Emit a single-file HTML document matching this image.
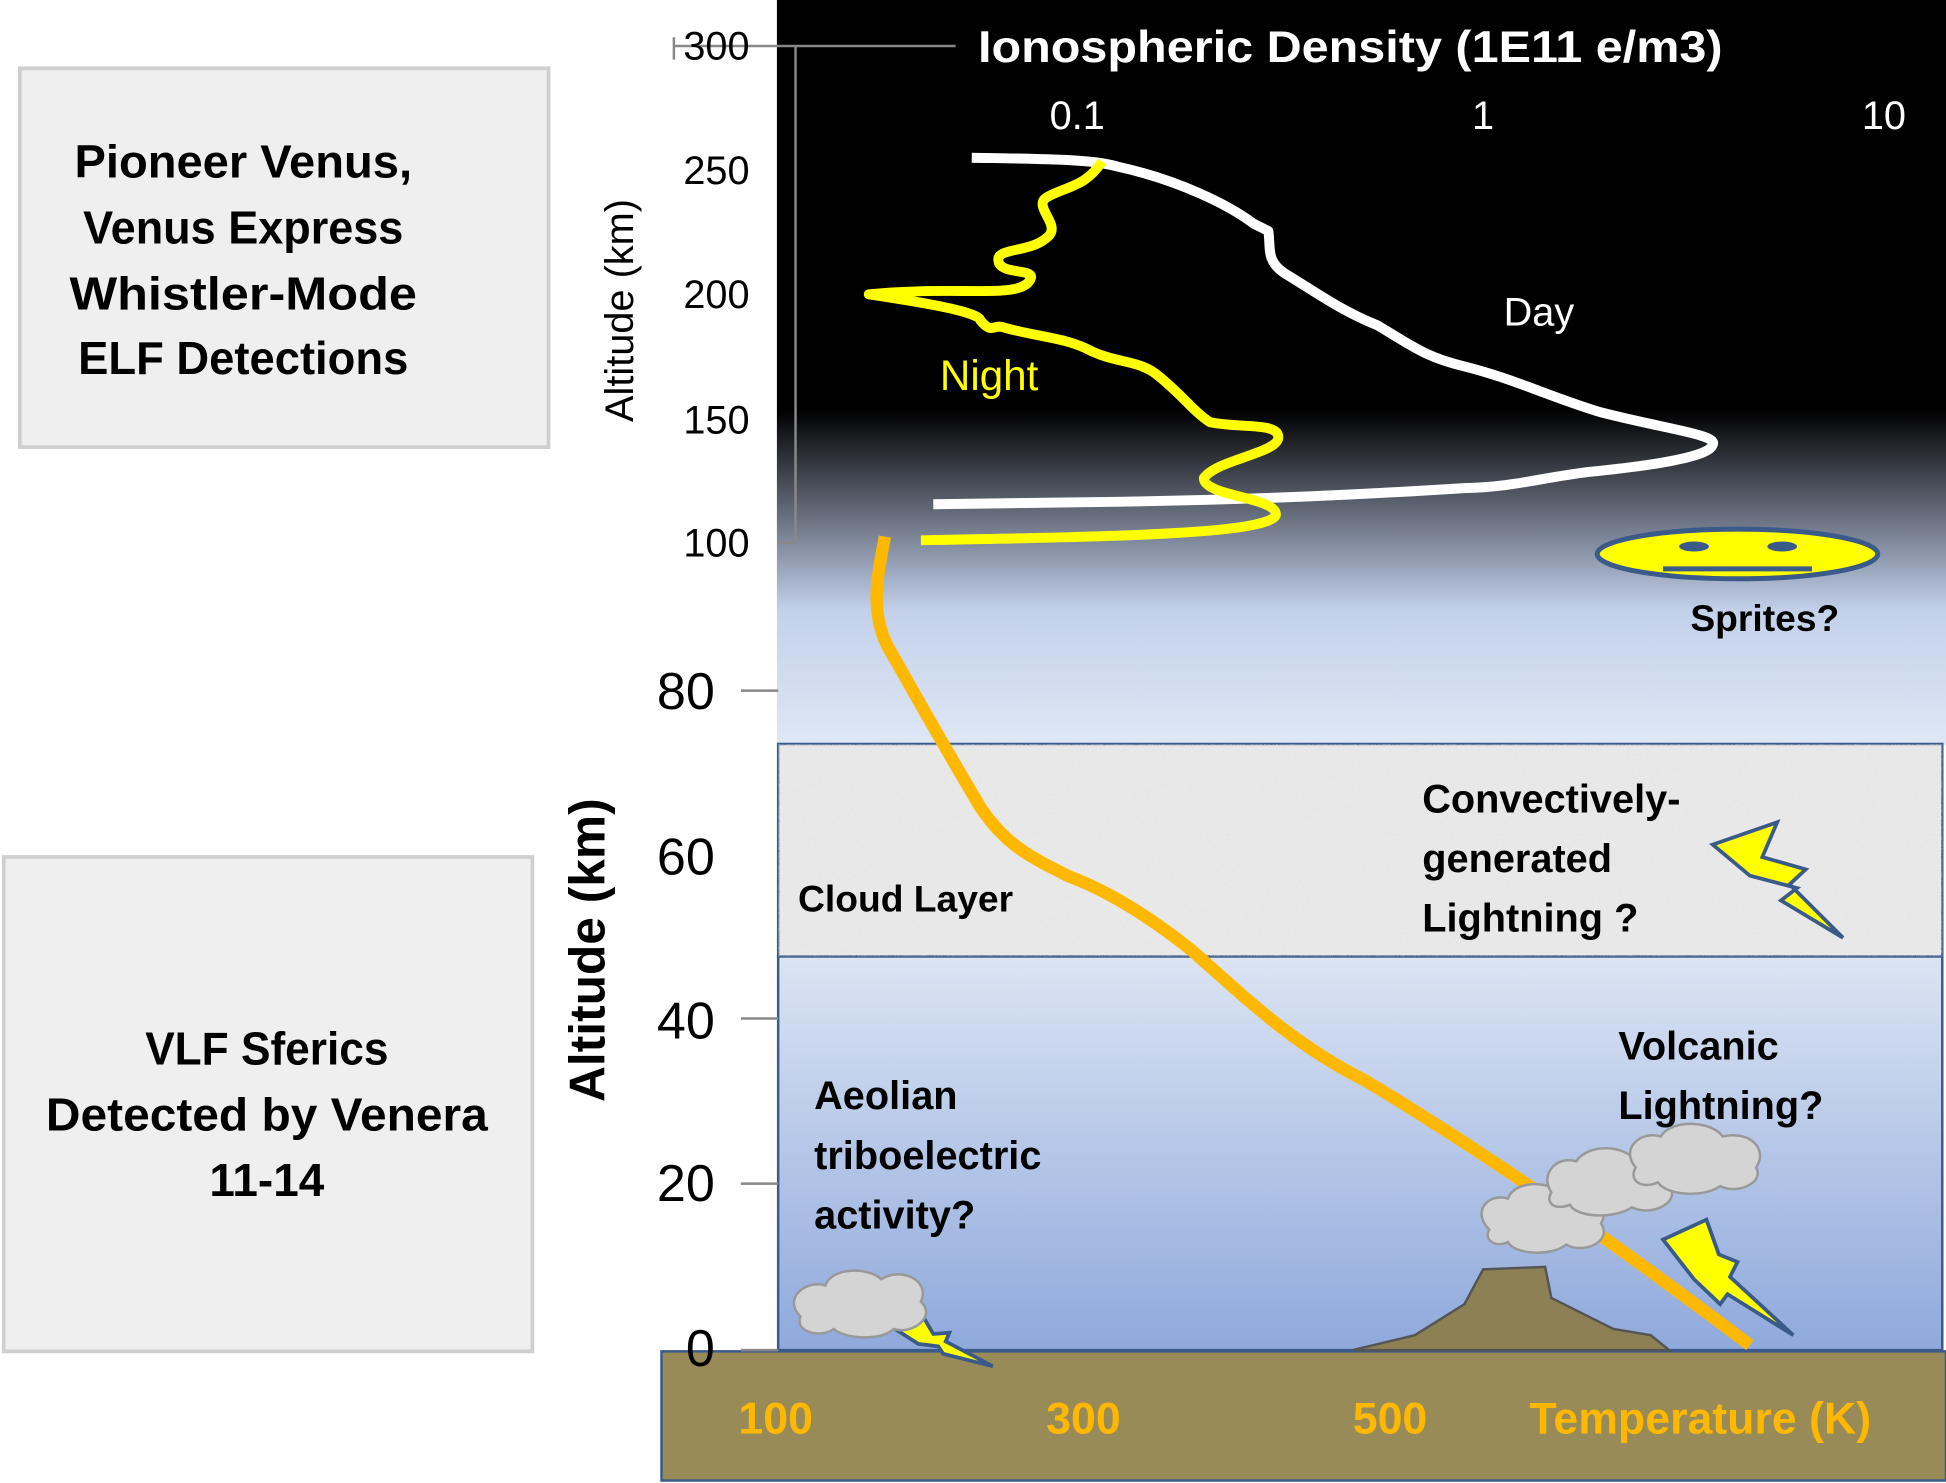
<!DOCTYPE html>
<html><head><meta charset="utf-8"><style>
html,body{margin:0;padding:0;background:#fff;}
svg{display:block;}
text{font-family:"Liberation Sans",sans-serif;}
</style></head><body>
<svg width="1946" height="1483" viewBox="0 0 1568 1194" preserveAspectRatio="none" xmlns="http://www.w3.org/2000/svg">
<defs>
<linearGradient id="top" x1="0" y1="0" x2="0" y2="1">
<stop offset="0" stop-color="#000"/><stop offset="0.55" stop-color="#000"/>
<stop offset="0.74" stop-color="#8a94a8"/><stop offset="0.82" stop-color="#c3d1ea"/><stop offset="1" stop-color="#dfe7f5"/>
</linearGradient>
<linearGradient id="low" x1="0" y1="0" x2="0" y2="1">
<stop offset="0" stop-color="#dbe4f3"/><stop offset="1" stop-color="#8fa9dc"/>
</linearGradient>
<filter id="noise"><feTurbulence baseFrequency="0.9" numOctaves="2" seed="3"/><feColorMatrix type="matrix" values="0 0 0 0 0.75  0 0 0 0 0.75  0 0 0 0 0.75  0 0 0 -1.6 1"/><feComposite in2="SourceGraphic" operator="in"/></filter>
</defs>
<rect width="1568" height="1194" fill="#fff"/>
<rect x="16" y="55" width="426" height="305" fill="#efefef" stroke="#cfcfcf" stroke-width="3"/>
<g font-weight="bold" font-size="37" fill="#000" text-anchor="middle">
<text x="196" y="143" textLength="272" lengthAdjust="spacingAndGlyphs">Pioneer Venus,</text>
<text x="196" y="196" textLength="258" lengthAdjust="spacingAndGlyphs">Venus Express</text>
<text x="196" y="249" textLength="280" lengthAdjust="spacingAndGlyphs">Whistler-Mode</text>
<text x="196" y="301" textLength="266" lengthAdjust="spacingAndGlyphs">ELF Detections</text>
</g>
<rect x="3" y="690" width="426" height="398" fill="#efefef" stroke="#cfcfcf" stroke-width="3"/>
<g font-weight="bold" font-size="37" fill="#000" text-anchor="middle">
<text x="215" y="857" textLength="196" lengthAdjust="spacingAndGlyphs">VLF Sferics</text>
<text x="215" y="910" textLength="356" lengthAdjust="spacingAndGlyphs">Detected by Venera</text>
<text x="215" y="963">11-14</text>
</g>
<rect x="626" y="0" width="942" height="600" fill="url(#top)"/>
<rect x="627" y="770" width="938" height="317" fill="url(#low)" stroke="#3a5a8a" stroke-width="2"/>
<rect x="627" y="599" width="938" height="171" fill="#ececec" stroke="#3a5a8a" stroke-width="2"/>
<rect x="627" y="599" width="938" height="171" fill="#ececec" filter="url(#noise)" opacity="0.6"/>
<rect x="533" y="1088" width="1035" height="104" fill="#998b58" stroke="#3a5a8a" stroke-width="2"/>
<g stroke="#888" stroke-width="2" fill="none">
<path d="M543 37H770M641 37V437M628 437H641M543 30V48"/>
<path d="M597 556H627M597 820H627M597 953H627M597 1087H627"/>
</g>
<g font-size="32" fill="#000" text-anchor="end">
<text x="604" y="48">300</text><text x="604" y="148">250</text><text x="604" y="248">200</text><text x="604" y="349">150</text><text x="604" y="448">100</text>
</g>
<text transform="translate(510,250) rotate(-90)" font-size="32" text-anchor="middle" fill="#000">Altitude (km)</text>
<g font-size="42" fill="#000" text-anchor="end">
<text x="576" y="571">80</text><text x="576" y="704">60</text><text x="576" y="836">40</text><text x="576" y="967">20</text><text x="576" y="1100">0</text>
</g>
<text transform="translate(487,765) rotate(-90)" font-size="40" font-weight="bold" text-anchor="middle" fill="#000">Altitude (km)</text>
<text x="1088" y="50" font-size="36" font-weight="bold" fill="#fff" text-anchor="middle" textLength="600" lengthAdjust="spacingAndGlyphs">Ionospheric Density (1E11 e/m3)</text>
<g font-size="32" fill="#fff" text-anchor="middle">
<text x="868" y="104">0.1</text><text x="1195" y="104">1</text><text x="1518" y="104">10</text>
<text x="1240" y="262">Day</text>
</g>
<text x="797" y="314" font-size="34" fill="#ffff00" text-anchor="middle">Night</text>
<path d="M783 127 C840 128 880 128 900 134 C950 145 990 165 1010 180 L1022 186 C1024 200 1020 210 1035 220 C1060 235 1080 250 1110 262 C1140 280 1150 288 1180 295 C1220 305 1250 320 1290 332 C1340 345 1385 350 1380 358 C1378 368 1330 375 1280 380 C1240 385 1220 392 1180 393 C1100 398 1020 402 900 404 L752 406" stroke="#fff" stroke-width="8" fill="none" stroke-linejoin="round"/>
<path d="M888 130 C875 150 860 150 845 158 C830 165 855 180 845 190 C830 205 800 198 805 212 C810 222 840 215 828 228 C815 240 770 230 700 237 C720 240 790 250 790 258 C800 270 800 260 810 264 C840 272 860 272 880 283 C900 292 915 290 930 300 C950 315 960 330 975 340 C1000 345 1030 340 1030 352 C1030 365 980 370 970 385 C970 400 1030 400 1028 415 C1020 430 900 432 742 435" stroke="#ffff00" stroke-width="8" fill="none" stroke-linejoin="round"/>
<path d="M713 432 C708 460 700 490 715 520 C735 555 760 600 790 650 C810 680 830 690 860 705 C900 720 935 745 960 765 C1000 800 1040 840 1100 870 C1200 930 1300 1000 1410 1083" stroke="#ffb800" stroke-width="10" fill="none"/>
<ellipse cx="1400" cy="446" rx="113" ry="20" fill="#ffff00" stroke="#3a5a8a" stroke-width="4"/>
<ellipse cx="1365" cy="440" rx="12" ry="4" fill="#3a5a8a"/><ellipse cx="1436" cy="440" rx="12" ry="4" fill="#3a5a8a"/>
<path d="M1340 458H1460" stroke="#3a5a8a" stroke-width="4"/>
<text x="1422" y="508" font-size="30" font-weight="bold" fill="#000" text-anchor="middle">Sprites?</text>
<text x="643" y="734" font-size="30" font-weight="bold" fill="#000">Cloud Layer</text>
<g font-size="32" font-weight="bold" fill="#000">
<text x="1146" y="654">Convectively-</text><text x="1146" y="702">generated</text><text x="1146" y="750">Lightning ?</text>
<text x="1304" y="853">Volcanic</text><text x="1304" y="901">Lightning?</text>
<text x="656" y="893">Aeolian</text><text x="656" y="941">triboelectric</text><text x="656" y="989">activity?</text>
</g>
<path d="M1380 680 L1432 662 L1420 690 L1455 700 L1442 712 L1485 755 L1435 725 L1448 715 L1410 705 Z" fill="#ffff00" stroke="#3a5a8a" stroke-width="3"/>
<path d="M1340 998 L1375 982 L1385 1010 L1400 1016 L1394 1028 L1445 1075 L1392 1042 L1386 1050 L1365 1030 Z" fill="#ffff00" stroke="#3a5a8a" stroke-width="3"/>
<path d="M718 1068 L745 1062 L752 1074 L765 1073 L762 1080 L800 1100 L760 1090 L756 1084 L740 1082 Z" fill="#ffff00" stroke="#3a5a8a" stroke-width="3"/>
<g fill="#d4d4d4" stroke="#999" stroke-width="2">
<path d="M645 1060 C630 1045 650 1030 665 1035 C670 1020 700 1020 710 1030 C725 1020 750 1030 742 1048 C755 1060 735 1075 720 1070 C710 1080 680 1078 672 1070 C660 1078 640 1072 645 1060 Z"/>
<path d="M1200 990 C1185 975 1200 960 1215 965 C1220 950 1250 950 1258 962 C1280 955 1300 968 1290 985 C1300 1000 1275 1010 1262 1002 C1250 1012 1220 1010 1215 1000 C1205 1005 1195 998 1200 990 Z"/>
<path d="M1250 960 C1240 945 1255 930 1270 935 C1280 920 1310 922 1318 935 C1335 928 1355 940 1345 955 C1355 968 1330 980 1315 972 C1300 982 1270 980 1265 970 C1252 975 1245 968 1250 960 Z"/>
<path d="M1318 940 C1305 925 1322 910 1338 915 C1348 900 1380 903 1388 915 C1410 910 1425 925 1415 940 C1422 952 1400 962 1386 955 C1372 965 1342 962 1336 952 C1322 958 1312 950 1318 940 Z"/>
</g>
<path d="M1090 1087 L1140 1075 L1180 1050 L1195 1022 L1245 1020 L1250 1045 L1300 1070 L1330 1075 L1345 1087 Z" fill="#8d8055" stroke="#555" stroke-width="2"/>
<g font-size="36" font-weight="bold" fill="#ffb800" text-anchor="middle">
<text x="625" y="1154">100</text><text x="873" y="1154">300</text><text x="1120" y="1154">500</text>
<text x="1370" y="1154">Temperature (K)</text>
</g>
</svg>
</body></html>
